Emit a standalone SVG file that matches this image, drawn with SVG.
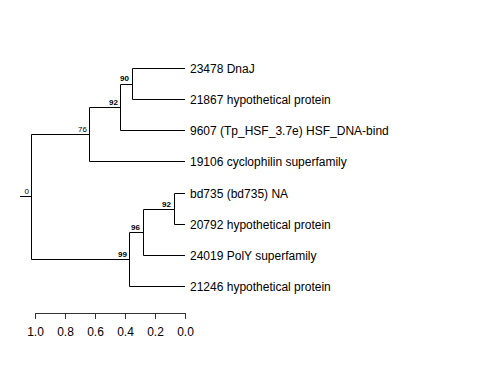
<svg xmlns="http://www.w3.org/2000/svg" width="480" height="384" viewBox="0 0 480 384">
<style>
.e{stroke:#000;stroke-width:1;fill:none}
.ax{stroke:#333;stroke-width:1;fill:none}
.t{font-family:"Liberation Sans",Arial,sans-serif;font-size:12px;fill:#000}
.b{font-family:"Liberation Sans",Arial,sans-serif;font-size:8px;font-weight:bold;fill:#000;text-anchor:end}
.n{font-family:"Liberation Sans",Arial,sans-serif;font-size:8px;fill:#000;text-anchor:end}
.a{font-family:"Liberation Sans",Arial,sans-serif;font-size:12px;fill:#000;text-anchor:middle}
</style>
<rect width="480" height="384" fill="#fff"/>
<g id="connectors">
<path class="e" d="M20,196.5H31.5M31.5,134.5V259.5M31.5,134.5H89.5M31.5,259.5H129.5"/>
<path class="e" d="M89.5,107.5V161.5M89.5,107.5H120.5M89.5,161.5H185"/>
<path class="e" d="M120.5,84.5V130.5M120.5,84.5H132.5M120.5,130.5H185"/>
<path class="e" d="M132.5,68.5V99.5M132.5,68.5H185M132.5,99.5H185"/>
<path class="e" d="M129.5,232.5V286.5M129.5,232.5H143.5M129.5,286.5H185"/>
<path class="e" d="M143.5,209.5V255.5M143.5,209.5H174.5M143.5,255.5H185"/>
<path class="e" d="M174.5,193.5V224.5M174.5,193.5H185M174.5,224.5H185"/>
</g>
<g id="leaf1"><text class="t" x="190" y="73">23478 DnaJ</text></g>
<g id="leaf2"><text class="t" x="190" y="104">21867 hypothetical protein</text></g>
<g id="leaf3"><text class="t" x="190" y="135">9607 (Tp_HSF_3.7e) HSF_DNA-bind</text></g>
<g id="leaf4"><text class="t" x="190" y="166">19106 cyclophilin superfamily</text></g>
<g id="leaf5"><text class="t" x="190" y="198">bd735 (bd735) NA</text></g>
<g id="leaf6"><text class="t" x="190" y="229">20792 hypothetical protein</text></g>
<g id="leaf7"><text class="t" x="190" y="260">24019 PolY superfamily</text></g>
<g id="leaf8"><text class="t" x="190" y="291">21246 hypothetical protein</text></g>
<g id="node-root"><text class="n" x="29" y="194">0</text></g>
<g id="node76"><text class="n" x="87" y="131.5">76</text></g>
<g id="node92a"><text class="b" x="118" y="104.5">92</text></g>
<g id="node90"><text class="b" x="129" y="81">90</text></g>
<g id="node99"><text class="b" x="127" y="256.5">99</text></g>
<g id="node96"><text class="b" x="140" y="229.5">96</text></g>
<g id="node92b"><text class="b" x="171" y="206.5">92</text></g>
<g id="axis">
<path class="ax" d="M35,313.5H185.5M35.5,313V319M65.5,313V319M95.5,313V319M125.5,313V319M155.5,313V319M185.5,313V319"/>
<text class="a" x="35.5" y="336">1.0</text>
<text class="a" x="65.5" y="336">0.8</text>
<text class="a" x="95.5" y="336">0.6</text>
<text class="a" x="125.5" y="336">0.4</text>
<text class="a" x="155.5" y="336">0.2</text>
<text class="a" x="185.5" y="336">0.0</text>
</g>
</svg>
